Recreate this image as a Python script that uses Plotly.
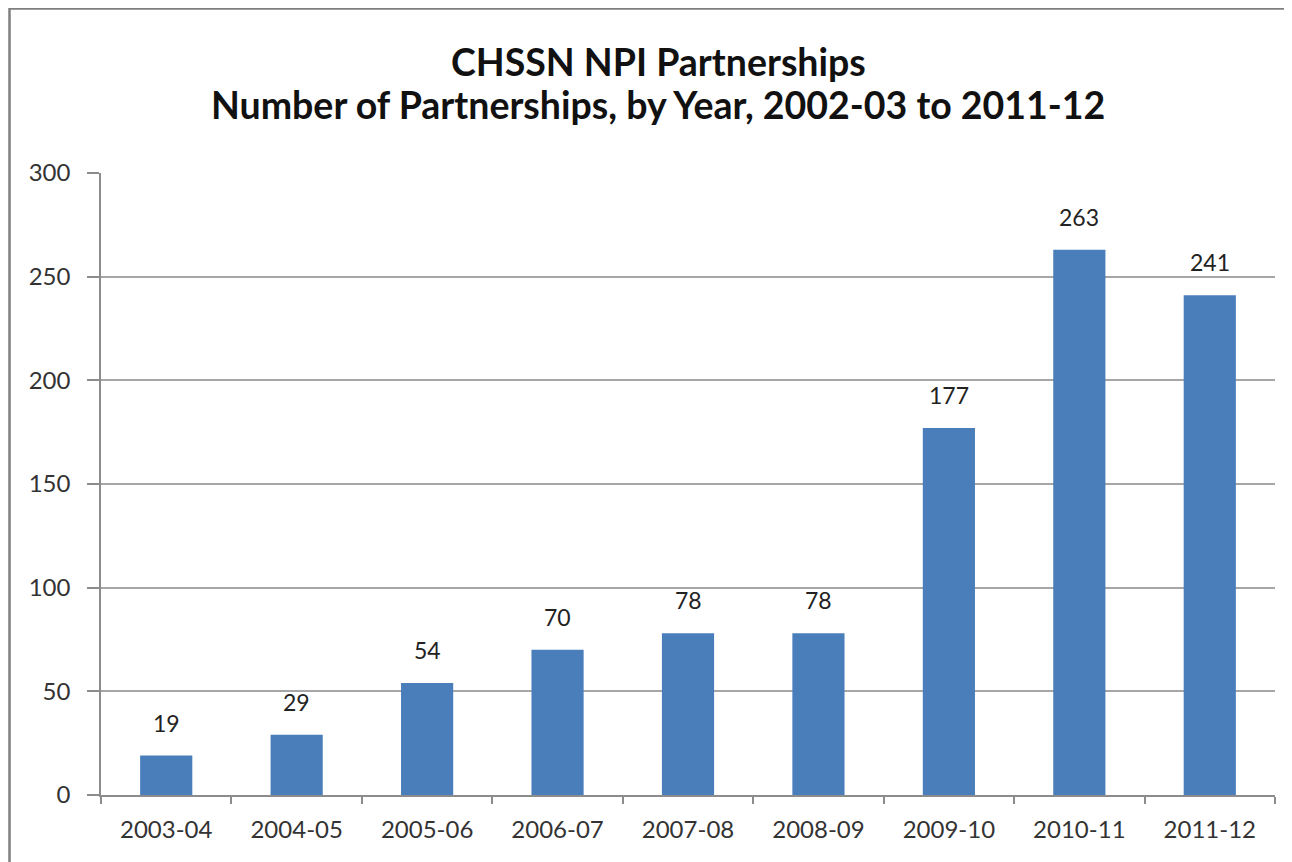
import plotly.graph_objects as go

categories = ["2003-04", "2004-05", "2005-06", "2006-07", "2007-08",
              "2008-09", "2009-10", "2010-11", "2011-12"]
partnerships = [19, 29, 54, 70, 78, 78, 177, 263, 241]
y_ticks = [0, 50, 100, 150, 200, 250, 300]
title_lines = ["CHSSN NPI Partnerships",
               "Number of Partnerships, by Year, 2002-03 to 2011-12"]

FONT = "Lato"
OFF = 8  # page body margin
W, H = 1292 - OFF, 862 - OFF
L, T = 101 - OFF, 173 - OFF
R = W - (1275 - OFF)
B = H - (795 - OFF)
pw, ph = W - L - R, H - T - B

def px_x(p):
    return (p - OFF - L) / pw

def px_y(p):
    return (H - B - (p - OFF)) / ph

fig = go.Figure()
fig.add_trace(go.Bar(
    x=categories, y=partnerships,
    marker=dict(color="#4A7EBB", line=dict(width=0)),
    hoverinfo="x+y",
))

annotations = []
for c, v in zip(categories, partnerships):
    annotations.append(dict(
        x=c, y=v, xref="x", yref="y", text=str(v), showarrow=False,
        yanchor="bottom", xanchor="center", yshift=17,
        font=dict(family=FONT, size=23, color="#222222"),
    ))
for line, ypix in zip(title_lines, [61, 104]):
    annotations.append(dict(
        x=px_x(658), y=px_y(ypix), xref="paper", yref="paper",
        text="<b>" + line + "</b>", showarrow=False,
        xanchor="center", yanchor="middle",
        font=dict(family=FONT, size=37.5, color="#111111"),
    ))

fig.update_layout(
    width=W, height=H,
    margin=dict(l=L, r=R, t=T, b=B),
    paper_bgcolor="white", plot_bgcolor="white",
    bargap=0.6,
    showlegend=False,
    font=dict(family=FONT, color="#333333"),
    annotations=annotations,
    xaxis=dict(
        type="category",
        showgrid=False, showline=True, linecolor="#8C8C8C", linewidth=1.5,
        ticks="outside", tickson="boundaries", ticklen=7, tickcolor="#8C8C8C",
        tickwidth=1.5, ticklabelstandoff=12,
        tickfont=dict(family=FONT, size=24, color="#333333"),
    ),
    yaxis=dict(
        range=[0, 300], tickvals=y_ticks,
        showgrid=True, gridcolor="#A6A6A6", gridwidth=1.5,
        showline=True, linecolor="#8C8C8C", linewidth=1.5,
        ticks="outside", ticklen=12, tickcolor="#8C8C8C", tickwidth=1.5,
        ticklabelstandoff=12,
        tickfont=dict(family=FONT, size=24, color="#333333"),
        zeroline=False,
    ),
    shapes=[dict(
        type="rect", xref="paper", yref="paper",
        x0=px_x(9.5), x1=px_x(1320), y0=px_y(890), y1=px_y(8.5),
        line=dict(color="#7F7F7F", width=2.5), fillcolor="rgba(0,0,0,0)",
        layer="below",
    )],
)

fig.write_html("out.html")
